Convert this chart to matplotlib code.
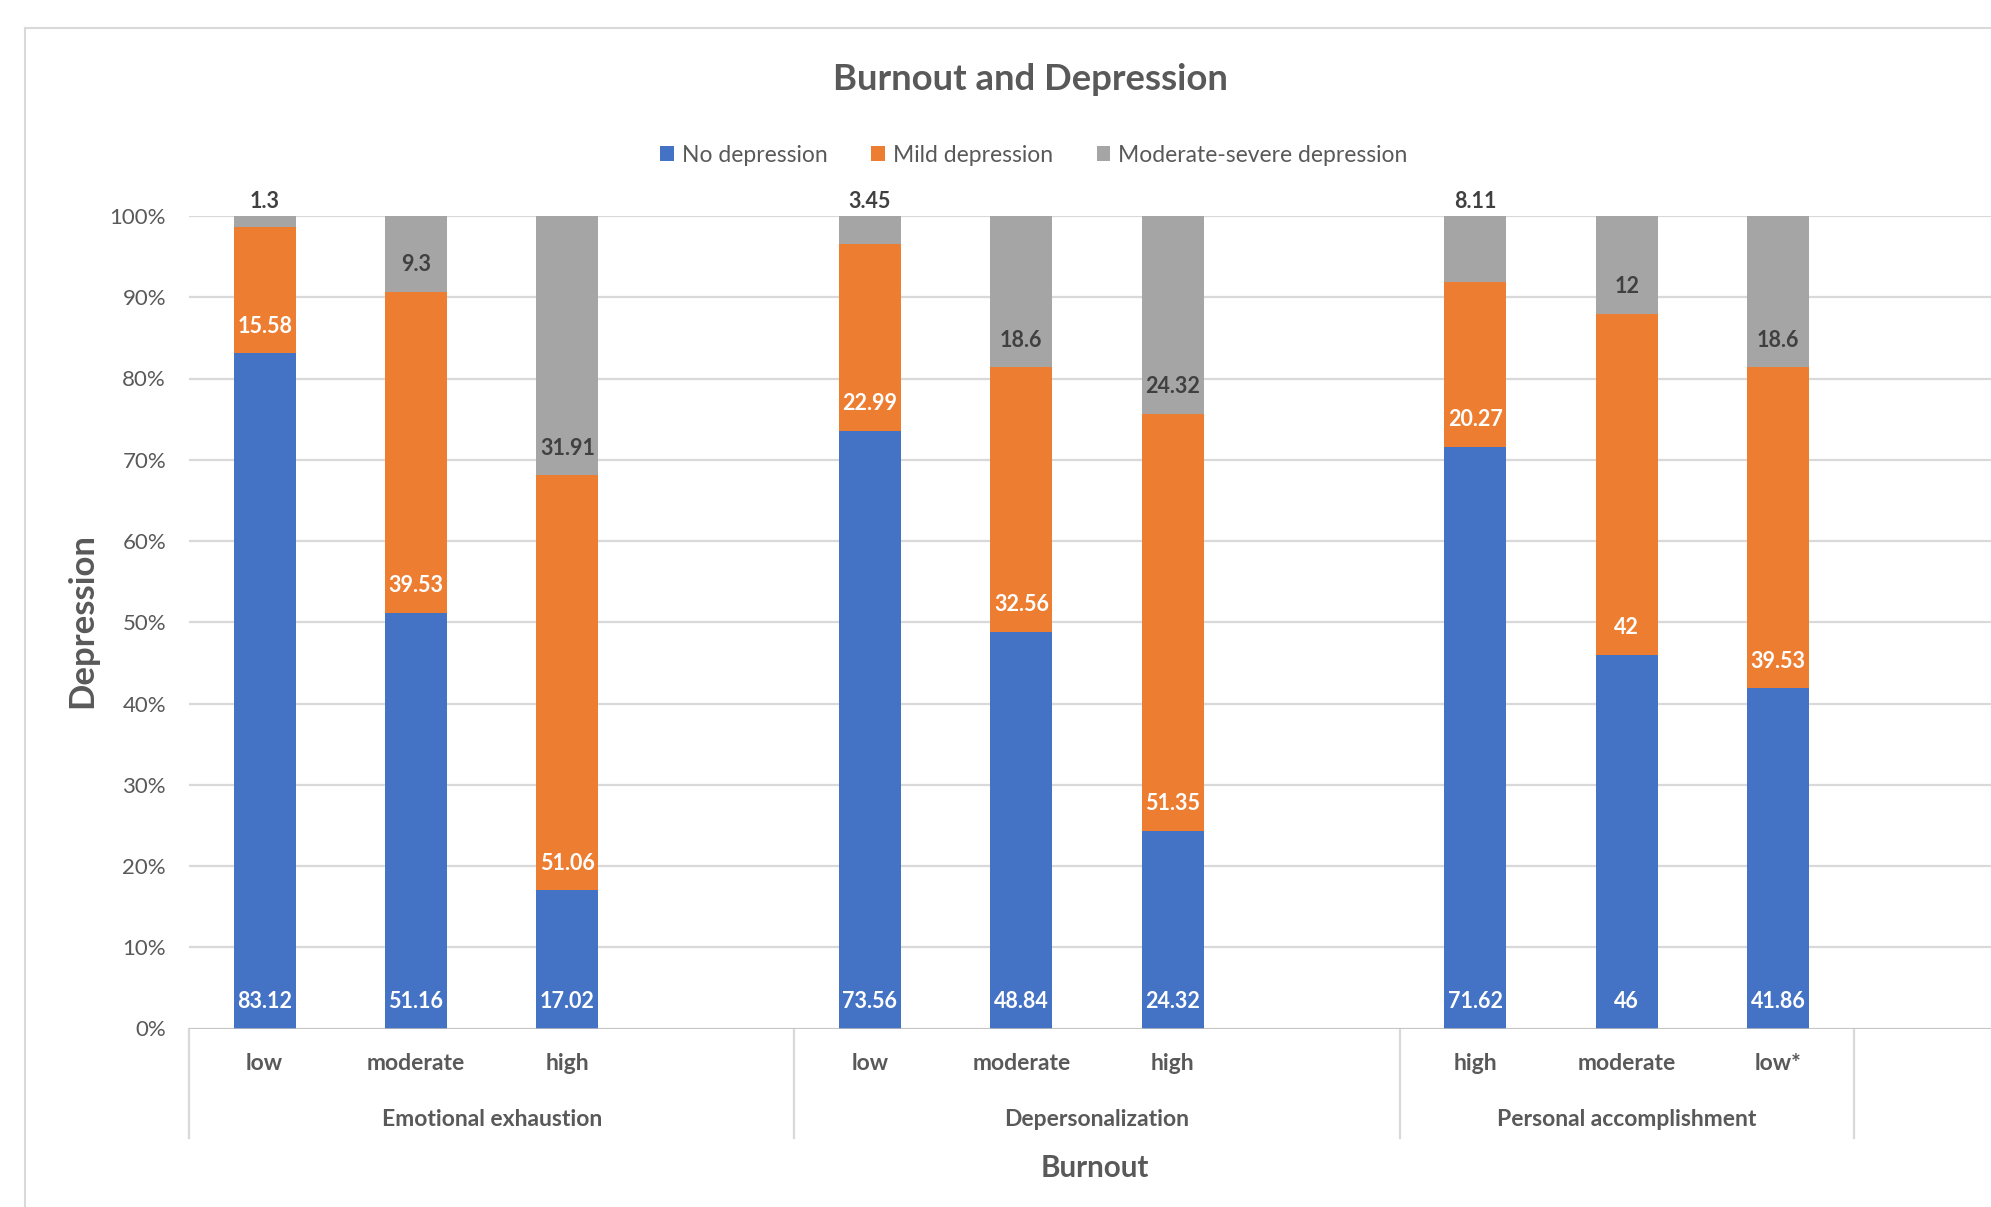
import matplotlib
matplotlib.use("Agg")
import matplotlib.pyplot as plt
import matplotlib.transforms as mtransforms
from matplotlib.lines import Line2D
from matplotlib.patches import Patch
import numpy as np

plt.rcParams['font.family'] = ['Lato', 'DejaVu Sans']

# stacked shares per burnout level, in %
groups = ["Emotional exhaustion", "Depersonalization", "Personal accomplishment"]
levels = [["low", "moderate", "high"],
          ["low", "moderate", "high"],
          ["high", "moderate", "low*"]]
no_dep = [83.12, 51.16, 17.02, 73.56, 48.84, 24.32, 71.62, 46, 41.86]
mild_dep = [15.58, 39.53, 51.06, 22.99, 32.56, 51.35, 20.27, 42, 39.53]
mod_sev_dep = [1.3, 9.3, 31.91, 3.45, 18.6, 24.32, 8.11, 12, 18.6]
series_names = ["No depression", "Mild depression", "Moderate-severe depression"]

colors = ["#4472C4", "#ED7D31", "#A5A5A5"]
txt_gray = "#595959"
grid_gray = "#D9D9D9"

# slot layout: 3 bars per group, one empty slot between groups
slots = [0, 1, 2, 4, 5, 6, 8, 9, 10]
group_edges = [0, 4, 8, 11]
x = np.array(slots) + 0.5

vals = np.array([no_dep, mild_dep, mod_sev_dep])
shares = vals / vals.sum(axis=0)

W, H = 1991, 1207
fig = plt.figure(figsize=(W / 100, H / 100), dpi=100)
ax = fig.add_axes([189 / W, 1 - 1028.5 / H, (2005 - 189) / W, (1028.5 - 216) / H])

bottom = np.zeros(len(x))
for k in range(3):
    ax.bar(x, shares[k], width=0.41, bottom=bottom, color=colors[k], zorder=3)
    for i in range(len(x)):
        label = f"{vals[k, i]:g}"
        if k == 2 and slots[i] in (0, 4, 8):
            # first bar of each group: label sits above the stack
            ax.annotate(label, (x[i], 1.0), xytext=(0, 14), textcoords="offset pixels",
                        ha="center", va="center", fontsize=15.5, fontweight="bold",
                        color="#404040", zorder=5)
        else:
            ax.annotate(label, (x[i], bottom[i]), xytext=(0, 27), textcoords="offset pixels",
                        ha="center", va="center", fontsize=15.5, fontweight="bold",
                        color="white" if k < 2 else "#404040", zorder=5)
    bottom += shares[k]

ax.set_xlim(0, 12)
ax.set_ylim(0, 1)
ax.set_yticks(np.arange(0, 1.01, 0.1))
ax.set_yticklabels([f"{int(round(t * 100))}%" for t in np.arange(0, 1.01, 0.1)])
ax.tick_params(axis="y", length=0, pad=16.5, labelsize=16, labelcolor=txt_gray)
ax.set_xticks([])
for s in ax.spines.values():
    s.set_visible(False)
ax.grid(axis="y", color=grid_gray, linewidth=1.6, zorder=0)
ax.axhline(0, color="#BFBFBF", linewidth=1.8, zorder=4)

# category and group labels under the axis
trans = mtransforms.blended_transform_factory(ax.transData, ax.transAxes)
sep_bottom = -(1138 - 1028.5) / 812.5
for gx in group_edges:
    ax.add_line(Line2D([gx, gx], [0, sep_bottom], transform=trans, color=grid_gray,
                       linewidth=1.6, clip_on=False))
cats = [c for grp in levels for c in grp]
for xi, c in zip(x, cats):
    ax.text(xi, -(1064 - 1028.5) / 812.5, c, transform=trans, ha="center", va="center",
            fontsize=16.5, fontweight="bold", color=txt_gray)
for g, name in enumerate(groups):
    lo = group_edges[g]
    hi = group_edges[g + 1]
    ax.text((lo + hi) / 2, -(1120 - 1028.5) / 812.5, name, transform=trans, ha="center",
            va="center", fontsize=16.5, fontweight="bold", color=txt_gray)

# titles
fig.text(1030 / W, 1 - 80 / H, "Burnout and Depression", ha="center", va="center",
         fontsize=26.3, fontweight="bold", color=txt_gray)
fig.text(1095 / W, 1 - 1168 / H, "Burnout", ha="center", va="center",
         fontsize=21.3, fontweight="bold", color=txt_gray)
fig.text(82.5 / W, 1 - 621 / H, "Depression", ha="center", va="center", rotation=90,
         fontsize=25, fontweight="bold", color=txt_gray)

handles = [Patch(facecolor=c, edgecolor="none") for c in colors]
fig.legend(handles, series_names, loc="center", bbox_to_anchor=(1034 / W, 1 - 155 / H),
           ncol=3, frameon=False, fontsize=16.5, labelcolor=txt_gray,
           handlelength=0.6, handleheight=0.6, handletextpad=0.35, columnspacing=1.9)

# chart frame (left and top edges)
fig.add_artist(Line2D([25 / W, 25 / W], [0, 1 - 28 / H], color=grid_gray, linewidth=1.5))
fig.add_artist(Line2D([25 / W, 1], [1 - 28 / H, 1 - 28 / H], color=grid_gray, linewidth=1.5))

fig.savefig("out.png", dpi=100, facecolor="white")
